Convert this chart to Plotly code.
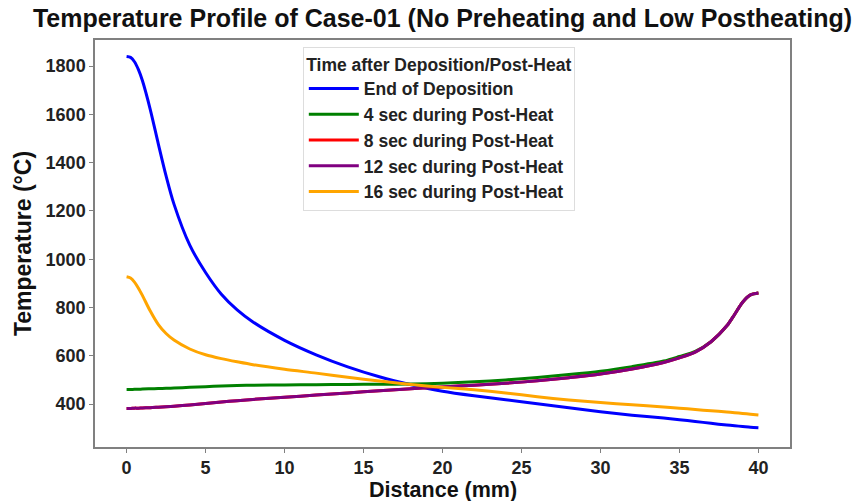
import plotly.graph_objects as go

distance = [0, 0.25, 0.5, 0.75, 1, 1.5, 2, 2.5, 3, 4, 5, 6, 7, 8, 10, 12, 14, 16, 18, 20,
            22, 24, 26, 28, 30, 32, 34, 35, 36, 37, 38, 38.5, 39, 39.5, 40]

end_of_deposition = [1840, 1836, 1818, 1785, 1740, 1620, 1480, 1345, 1228, 1058, 945, 855,
                     790, 740, 664, 604, 554, 513, 480, 453, 434, 418, 401, 385, 368, 354,
                     342, 335, 328, 320, 313, 310, 307, 304, 302]
post_4s = [460, 460, 461, 461, 462, 463, 464, 465, 466, 469, 472, 475, 477, 478, 479, 480,
           481, 482, 483, 486, 492, 500, 510, 522, 536, 555, 578, 597, 618, 658, 724, 772,
           822, 852, 860]
post_8s = [382, 382, 383, 383, 384, 385, 387, 389, 391, 396, 402, 408, 414, 419, 428, 437,
           446, 455, 463, 471, 478, 486, 496, 509, 524, 545, 572, 591, 615, 658, 724, 772,
           822, 852, 860]
post_12s = [382, 382, 383, 383, 384, 385, 387, 389, 391, 396, 402, 408, 414, 419, 428, 437,
            446, 455, 463, 471, 478, 486, 496, 509, 524, 545, 572, 591, 615, 658, 724, 772,
            822, 852, 860]
post_16s = [927, 922, 905, 880, 850, 785, 730, 692, 665, 628, 604, 588, 575, 563, 544, 528,
            511, 495, 481, 469, 459, 446, 430, 417, 406, 397, 388, 383, 377, 372, 367, 364,
            361, 358, 355]

series_names = ["End of Deposition", "4 sec during Post-Heat", "8 sec during Post-Heat",
                "12 sec during Post-Heat", "16 sec during Post-Heat"]
series_values = [end_of_deposition, post_4s, post_8s, post_12s, post_16s]
series_colors = ["#0000ff", "#008000", "#ff0000", "#800080", "#ffa500"]

x_ticks = [0, 5, 10, 15, 20, 25, 30, 35, 40]
y_ticks = [400, 600, 800, 1000, 1200, 1400, 1600, 1800]

FONT = "Liberation Sans, Arial, sans-serif"
W, H = 854, 501
ML, MR, MT, MB = 95, 64, 40, 54
PLOT_H = H - MT - MB

fig = go.Figure()
for i, (name, vals, col) in enumerate(zip(series_names, series_values, series_colors)):
    fig.add_trace(go.Scatter(
        x=distance, y=vals, mode="lines", name=name,
        line=dict(color=col, width=3, shape="spline", smoothing=0.8),
        legendgroup=f"g{i}",
    ))

axis_common = dict(
    showgrid=False, zeroline=False, showline=True, mirror=True,
    linecolor="#808080", linewidth=1.5,
    ticks="outside", ticklen=4, tickwidth=1.2, tickcolor="#808080",
    tickfont=dict(family=FONT, size=18, color="#222222", weight="bold"),
    automargin=False,
)

fig.update_layout(
    width=W, height=H,
    margin=dict(l=ML, r=MR, t=MT, b=MB),
    paper_bgcolor="white", plot_bgcolor="white",
    title=dict(
        text="Temperature Profile of Case-01 (No Preheating and Low Postheating)",
        font=dict(family=FONT, size=25, color="#111111", weight="bold"),
        x=0.5, xref="paper", xanchor="center",
        y=1 - 18 / H, yref="container", yanchor="middle",
    ),
    xaxis=dict(axis_common, range=[-2, 42], tickvals=x_ticks),
    yaxis=dict(axis_common, range=[222, 1908], tickvals=y_ticks,
               title=dict(text="Temperature (°C)", standoff=8,
                          font=dict(family=FONT, size=23, color="#111111", weight="bold"))),
    legend=dict(
        x=0.299, y=0.983, xanchor="left", yanchor="top",
        bgcolor="white", bordercolor="#dddddd", borderwidth=1,
        font=dict(family=FONT, size=17.5, color="#222222", weight="bold"),
        title=dict(text="Time after Deposition/Post-Heat", side="top center",
                   font=dict(family=FONT, size=17.5, color="#222222", weight="bold")),
        tracegroupgap=5,
        traceorder="normal",
        itemwidth=50,
    ),
    showlegend=True,
)

# x-axis title placed as a text annotation below the tick labels
fig.add_annotation(
    text="Distance (mm)", xref="paper", yref="paper",
    x=0.5, y=-(490 - (H - MB)) / PLOT_H, xanchor="center", yanchor="middle",
    showarrow=False,
    font=dict(family=FONT, size=21.5, color="#111111", weight="bold"),
)

fig.write_html("out.html")
